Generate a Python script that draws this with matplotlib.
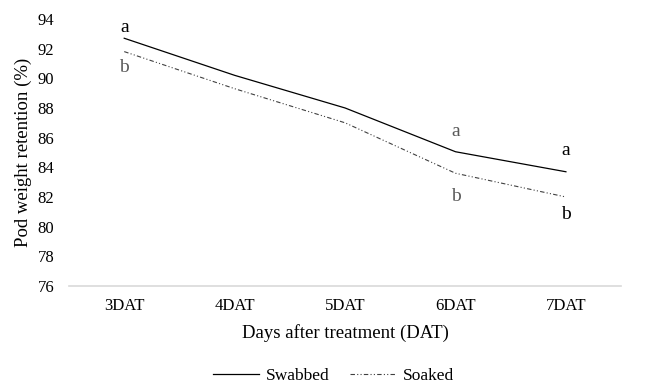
import matplotlib
matplotlib.use('Agg')
import matplotlib.pyplot as plt

plt.rcParams['font.family'] = ['Liberation Serif', 'DejaVu Serif']

days = ['3DAT', '4DAT', '5DAT', '6DAT', '7DAT']
swabbed = [92.7, 90.2, 88.0, 85.05, 83.7]
soaked = [91.8, 89.3, 87.0, 83.6, 82.0]

# significance letters: (day index, letter, y value, colour)
letters = [
    (0, 'a', 93.4, 'black'),
    (0, 'b', 90.7, '#595959'),
    (3, 'a', 86.4, '#595959'),
    (3, 'b', 82.0, '#595959'),
    (4, 'a', 85.1, 'black'),
    (4, 'b', 80.8, 'black'),
]

fig = plt.figure(figsize=(6.45, 3.87), dpi=100)
ax = fig.add_axes([0.107, 0.261, 0.856, 0.69])

x = range(len(days))
ax.plot(x, swabbed, color='black', lw=0.9, label='Swabbed')
ax.plot(x, soaked, color='#404040', lw=0.8, linestyle=(0, (4, 2, 1, 2, 1, 2)), label='Soaked')

for i, t, y, c in letters:
    ax.text(i, y, t, ha='center', va='center', fontsize=14, color=c)

ax.set_xlim(-0.5, 4.5)
ax.set_ylim(76, 94)
ax.set_yticks(range(76, 95, 2))
ax.set_xticks(list(x))
ax.set_xticklabels(days)
ax.tick_params(length=0, labelsize=12, pad=9)
ax.tick_params(axis='y', pad=10.5)
for s in ['top', 'right', 'left']:
    ax.spines[s].set_visible(False)
ax.spines['bottom'].set_color('#d9d9d9')
ax.spines['bottom'].set_linewidth(1.2)

ax.set_xlabel('Days after treatment (DAT)', fontsize=13.5, labelpad=7)
ax.set_ylabel('Pod weight retention (%)', fontsize=13.5, labelpad=4)

fig.legend(loc='center', bbox_to_anchor=(0.517, 11 / 387), ncol=2, frameon=False,
           fontsize=12.5, handlelength=2.65, handletextpad=0.4, columnspacing=1.2,
           borderpad=0.2)

fig.savefig('out.png', dpi=100)
